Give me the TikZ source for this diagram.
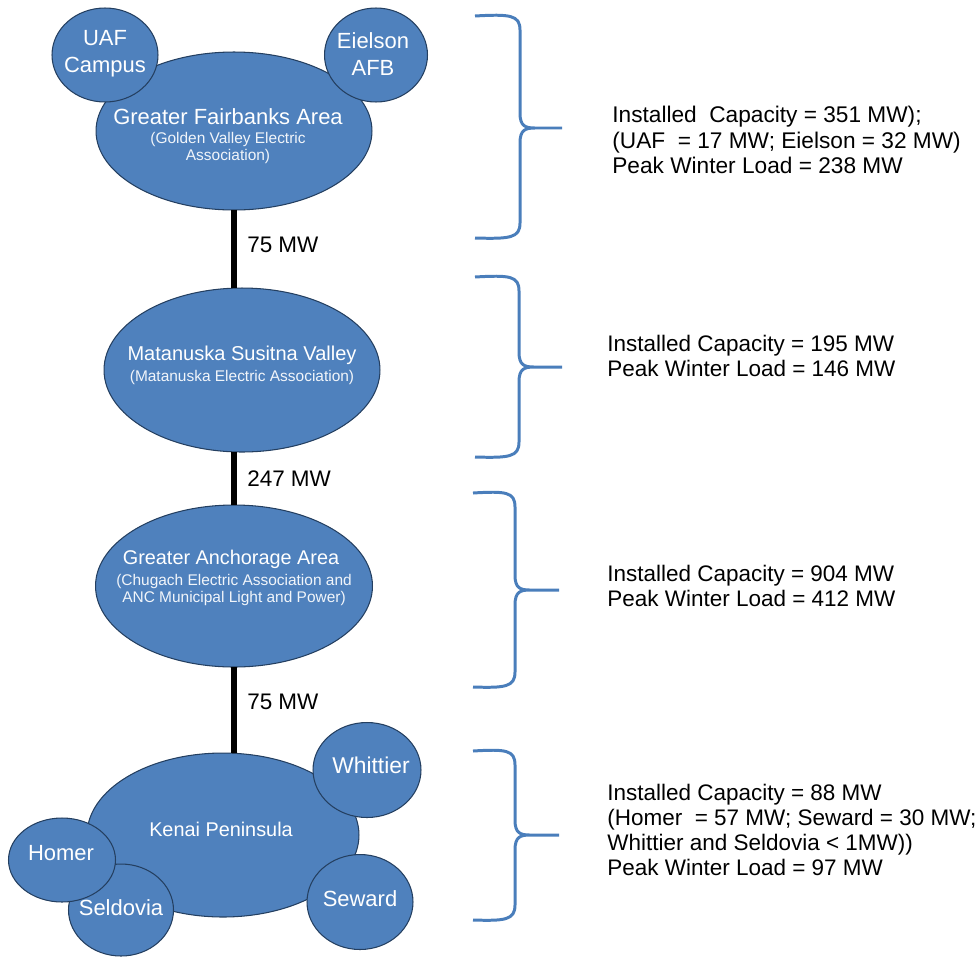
\documentclass[tikz,border=0pt]{standalone}
\usepackage{fontspec}
\setmainfont{Liberation Sans}
\usetikzlibrary{shapes.geometric}

\definecolor{areablue}{HTML}{4F81BD}
\definecolor{areaedge}{HTML}{243F60}
\definecolor{curlyblue}{HTML}{4A7EBB}

\begin{document}
\begin{tikzpicture}[x=0.02cm,y=-0.02cm,
  area/.style={ellipse,fill=areablue,draw=areaedge,line width=0.6pt,inner sep=0pt,outer sep=0pt},
  areaname/.style={text=white,align=center,inner sep=0pt,font=\fontsize{12.5}{15.3}\selectfont},
  areasub/.style={text=white!92!areablue,align=center,inner sep=0pt,font=\fontsize{8.8}{10.2}\selectfont},
  link/.style={line width=3.7pt},
  mw/.style={right,inner sep=0pt,xshift=0.2cm,font=\fontsize{12.8}{15}\selectfont},
  curly/.style={draw=curlyblue,line width=1.7pt,line join=round},
  facts/.style={anchor=west,align=left,inner sep=0pt,font=\fontsize{12.8}{14.1}\selectfont}]
  \useasboundingbox (0,0) rectangle (979,957);

  % Fairbanks
  \node[area,minimum width=5.52cm,minimum height=3.16cm] (fair) at (234,131) {};
  \node[area,minimum width=2.12cm,minimum height=1.88cm] (uaf) at (105,55) {};
  \node[area,minimum width=2.06cm,minimum height=1.88cm] (eielson) at (376,55) {};
  \node[areaname] (uafname) at (105,54) {UAF\\Campus};
  \node[areaname] (eielsonname) at (373,54) {Eielson\\AFB};
  \node[areaname] (fairname) at (228,117) {Greater Fairbanks Area};
  \node[areasub] (fairsub) at (228,148) {(Golden Valley Electric\\Association)};

  % Mat-Su
  \node[area,minimum width=5.52cm,minimum height=3.28cm] (matsu) at (242,370) {};
  \node[areaname,font=\fontsize{11.4}{14}\selectfont] (matsuname) at (242,355) {Matanuska Susitna Valley};
  \node[areasub] (matsusub) at (242,377) {(Matanuska Electric Association)};

  % Anchorage
  \node[area,minimum width=5.54cm,minimum height=3.24cm] (anch) at (234,586) {};
  \node[areaname,font=\fontsize{11.3}{14}\selectfont] (anchname) at (231,559) {Greater Anchorage Area};
  \node[areasub] (anchsub) at (234,590) {(Chugach Electric Association and\\ANC Municipal Light and Power)};

  % Kenai
  \node[area,minimum width=5.44cm,minimum height=3.28cm] (kenai) at (223,835) {};
  \node[area,minimum width=2.10cm,minimum height=1.84cm] (seldovia) at (121,910) {};
  \node[area,minimum width=2.14cm,minimum height=1.68cm] (homer) at (62,860) {};
  \node[area,minimum width=2.16cm,minimum height=1.90cm] (whittier) at (367,770) {};
  \node[area,minimum width=2.12cm,minimum height=1.90cm] (seward) at (360,902) {};
  \node[areaname,font=\fontsize{11.3}{14}\selectfont] (kenainame) at (221,829) {Kenai Peninsula};
  \node[areaname] (seldovianame) at (121,908) {Seldovia};
  \node[areaname] (homername) at (61,853) {Homer};
  \node[areaname,font=\fontsize{13}{15}\selectfont] (whittiername) at (371,765) {Whittier};
  \node[areaname] (sewardname) at (360,899) {Seward};

  % ties
  \draw[link] (fair.south) -- node[mw,pos=0.45] (tie1) {75 MW} (fair.south |- matsu.north);
  \draw[link] (anch.north |- matsu.south) -- node[mw] (tie2) {247 MW} (anch.north);
  \draw[link] (anch.south) -- node[mw,pos=0.4] (tie3) {75 MW} (anch.south |- kenai.north);

  % braces
  \draw[curly] (475,16) .. controls (510,14) and (520,15) .. (520,30) -- (520,113) .. controls (520,126) and (525,128) .. (535,128) -- (562,128)
    (535,128) .. controls (525,128) and (520,130) .. (520,143) -- (520,223) .. controls (520,238) and (510,239) .. (475,238);
  \draw[curly] (475,277) .. controls (510,275) and (519,276) .. (519,291) -- (519,352) .. controls (519,365) and (524,367) .. (534,367) -- (562,367)
    (534,367) .. controls (524,367) and (519,369) .. (519,382) -- (519,442) .. controls (519,457) and (509,458) .. (475,457);
  \draw[curly] (473,493) .. controls (506,491) and (515,492) .. (515,507) -- (515,575) .. controls (515,588) and (520,590) .. (530,590) -- (559,590)
    (530,590) .. controls (520,590) and (515,592) .. (515,605) -- (515,672) .. controls (515,687) and (505,688) .. (473,687);
  \draw[curly] (473,751) .. controls (506,749) and (515,750) .. (515,765) -- (515,820) .. controls (515,833) and (520,835) .. (530,835) -- (559,835)
    (530,835) .. controls (520,835) and (515,837) .. (515,850) -- (515,905) .. controls (515,920) and (505,921) .. (473,920);

  % facts
  \node[facts,font=\fontsize{12.9}{14.3}\selectfont] (fairfacts) at (612,140) {Installed\ \ Capacity = 351 MW);\\(UAF\ \ = 17 MW; Eielson = 32 MW)\\Peak Winter Load = 238 MW};
  \node[facts] (matsufacts) at (607,356) {Installed Capacity = 195 MW\\Peak Winter Load = 146 MW};
  \node[facts] (anchfacts) at (607,586) {Installed Capacity = 904 MW\\Peak Winter Load = 412 MW};
  \node[facts] (kenaifacts) at (607,830) {Installed Capacity = 88 MW\\(Homer\ \ = 57 MW; Seward = 30 MW;\\Whittier and Seldovia < 1MW))\\Peak Winter Load = 97 MW};
\end{tikzpicture}
\end{document}
